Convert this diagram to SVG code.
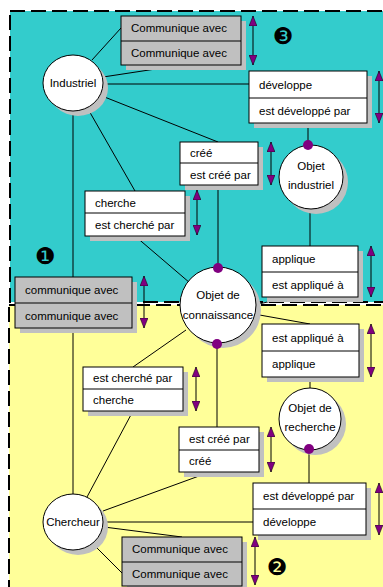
<svg xmlns="http://www.w3.org/2000/svg" width="383" height="587" viewBox="0 0 383 587">
<defs>
<style>
text{font-family:"Liberation Sans",Arial,sans-serif;font-size:11.5px;fill:#000}
.c{text-anchor:middle}
.num{font-family:"DejaVu Sans",sans-serif;font-size:23px;text-anchor:middle}
.box{fill:#fff;stroke:#000;stroke-width:1}
.gbox{fill:#c0c0c0;stroke:#000;stroke-width:1}
.sh{fill:#c0c0c0}
.ln{stroke:#000;stroke-width:1;fill:none}
.arr{stroke:#000;stroke-width:1;fill:none;marker-start:url(#ah);marker-end:url(#ah)}
.dot{fill:#800080}
</style>
<marker id="ah" viewBox="0 0 10 8" refX="10" refY="4" markerWidth="10" markerHeight="8" markerUnits="userSpaceOnUse" orient="auto-start-reverse">
<path d="M0,0 L10,4 L0,8 Z" fill="#800080" stroke="#000" stroke-width="0.5"/>
</marker>
</defs>
<rect x="0" y="0" width="383" height="587" fill="#fff"/>
<rect x="10" y="11" width="380" height="291" fill="#33cccc" stroke="#000" stroke-width="2" stroke-dasharray="15 6"/>
<rect x="9" y="305" width="380" height="290" fill="#ffff99" stroke="#000" stroke-width="2" stroke-dasharray="15 6"/>

<g id="connectors">
<line class="ln" x1="92" y1="60" x2="121" y2="28"/>
<line class="ln" x1="103" y1="77" x2="182" y2="65"/>
<line class="ln" x1="103" y1="84" x2="249" y2="84"/>
<line class="ln" x1="102" y1="96" x2="218" y2="142"/>
<line class="ln" x1="88" y1="109" x2="135" y2="191"/>
<line class="ln" x1="73" y1="111" x2="73" y2="494"/>
<line class="ln" x1="308" y1="123" x2="308" y2="145"/>
<line class="ln" x1="310" y1="209" x2="310" y2="246"/>
<line class="ln" x1="218" y1="185" x2="218" y2="268"/>
<line class="ln" x1="135" y1="236" x2="190" y2="283"/>
<line class="ln" x1="250" y1="306" x2="285" y2="298"/>
<line class="ln" x1="254" y1="314" x2="310" y2="324"/>
<line class="ln" x1="310" y1="377" x2="310" y2="388"/>
<line class="ln" x1="309" y1="449" x2="309" y2="483"/>
<line class="ln" x1="217" y1="343" x2="217" y2="427"/>
<line class="ln" x1="186" y1="330" x2="133" y2="367"/>
<line class="ln" x1="133" y1="411" x2="87" y2="497"/>
<line class="ln" x1="103" y1="511" x2="210" y2="472"/>
<line class="ln" x1="103" y1="522" x2="253" y2="522"/>
<line class="ln" x1="104" y1="527" x2="182" y2="537"/>
<line class="ln" x1="93" y1="544" x2="122" y2="573"/>
</g>

<g id="arrows">
<line class="arr" x1="253" y1="16" x2="253" y2="65"/>
<line class="arr" x1="379" y1="71" x2="379" y2="123"/>
<line class="arr" x1="271" y1="142" x2="271" y2="185"/>
<line class="arr" x1="197" y1="190" x2="197" y2="235"/>
<line class="arr" x1="371" y1="246" x2="371" y2="297"/>
<line class="arr" x1="144" y1="276" x2="144" y2="328"/>
<line class="arr" x1="371" y1="324" x2="371" y2="377"/>
<line class="arr" x1="196" y1="367" x2="196" y2="411"/>
<line class="arr" x1="271" y1="427" x2="271" y2="472"/>
<line class="arr" x1="379" y1="483" x2="379" y2="535"/>
<line class="arr" x1="255" y1="537" x2="255" y2="585"/>
</g>

<g id="industriel">
<ellipse class="sh" cx="78" cy="88" rx="30" ry="28"/>
<ellipse class="box" cx="73" cy="83" rx="30" ry="28"/>
<text class="c" x="73" y="87">Industriel</text>
</g>
<g id="commTop">
<rect class="sh" x="126" y="21" width="120" height="49"/>
<rect class="gbox" x="121" y="16" width="120" height="49"/>
<line class="ln" x1="121" y1="41" x2="241" y2="41"/>
<text x="131" y="32">Communique avec</text>
<text x="131" y="57">Communique avec</text>
</g>
<g id="developpe">
<rect class="sh" x="254" y="76" width="118" height="52"/>
<rect class="box" x="249" y="71" width="118" height="52"/>
<line class="ln" x1="249" y1="98" x2="367" y2="98"/>
<text x="259" y="89">développe</text>
<text x="259" y="115">est développé par</text>
</g>
<g id="cree">
<rect class="sh" x="185" y="147" width="78" height="43"/>
<rect class="box" x="180" y="142" width="78" height="43"/>
<line class="ln" x1="180" y1="163" x2="258" y2="163"/>
<text x="190" y="157">créé</text>
<text x="190" y="179">est créé par</text>
</g>
<g id="cherche">
<rect class="sh" x="90" y="196" width="100" height="45"/>
<rect class="box" x="85" y="191" width="100" height="45"/>
<line class="ln" x1="85" y1="213" x2="185" y2="213"/>
<text x="95" y="207">cherche</text>
<text x="95" y="229">est cherché par</text>
</g>
<g id="objetIndustriel">
<circle class="sh" cx="316" cy="182" r="32"/>
<circle class="box" cx="311" cy="177" r="32"/>
<text class="c" x="311" y="170">Objet</text>
<text class="c" x="311" y="189">industriel</text>
<circle class="dot" cx="308" cy="145" r="5"/>
</g>
<g id="applique">
<rect class="sh" x="267" y="251" width="96" height="51"/>
<rect class="box" x="262" y="246" width="96" height="51"/>
<line class="ln" x1="262" y1="272" x2="358" y2="272"/>
<text x="272" y="263">applique</text>
<text x="272" y="289">est appliqué à</text>
</g>
<g id="commMid">
<rect class="sh" x="20" y="282" width="117" height="51"/>
<rect class="gbox" x="15" y="277" width="117" height="51"/>
<line class="ln" x1="15" y1="303" x2="132" y2="303"/>
<text x="25" y="294">communique avec</text>
<text x="25" y="320">communique avec</text>
</g>
<g id="num1"><text class="num" x="45" y="264">❶</text></g>
<g id="objetConnaissance">
<circle class="sh" cx="223" cy="310" r="38"/>
<circle class="box" cx="218" cy="305" r="38"/>
<text class="c" x="218" y="299">Objet de</text>
<text class="c" x="218" y="319">connaissance</text>
<circle class="dot" cx="218" cy="268" r="5"/>
<circle class="dot" cx="217" cy="344" r="5"/>
</g>
<g id="estApplique">
<rect class="sh" x="267" y="329" width="97" height="53"/>
<rect class="box" x="262" y="324" width="97" height="53"/>
<line class="ln" x1="262" y1="351" x2="359" y2="351"/>
<text x="272" y="342">est appliqué à</text>
<text x="272" y="368">applique</text>
</g>
<g id="estCherche">
<rect class="sh" x="88" y="372" width="100" height="44"/>
<rect class="box" x="83" y="367" width="100" height="44"/>
<line class="ln" x1="83" y1="389" x2="183" y2="389"/>
<text x="93" y="382">est cherché par</text>
<text x="93" y="404">cherche</text>
</g>
<g id="objetRecherche">
<circle class="sh" cx="315" cy="424" r="31"/>
<circle class="box" cx="310" cy="419" r="31"/>
<text class="c" x="310" y="412">Objet de</text>
<text class="c" x="310" y="431">recherche</text>
<circle class="dot" cx="309" cy="449" r="5"/>
</g>
<g id="estCree">
<rect class="sh" x="184" y="432" width="80" height="45"/>
<rect class="box" x="179" y="427" width="80" height="45"/>
<line class="ln" x1="179" y1="450" x2="259" y2="450"/>
<text x="189" y="443">est créé par</text>
<text x="189" y="465">créé</text>
</g>
<g id="estDeveloppe">
<rect class="sh" x="258" y="488" width="113" height="52"/>
<rect class="box" x="253" y="483" width="113" height="52"/>
<line class="ln" x1="253" y1="509" x2="366" y2="509"/>
<text x="263" y="500">est développé par</text>
<text x="263" y="526">développe</text>
</g>
<g id="chercheur">
<ellipse class="sh" cx="78" cy="527" rx="30" ry="28"/>
<ellipse class="box" cx="73" cy="522" rx="30" ry="28"/>
<text class="c" x="73" y="526">Chercheur</text>
</g>
<g id="commBot">
<rect class="sh" x="127" y="542" width="120" height="49"/>
<rect class="gbox" x="122" y="537" width="120" height="49"/>
<line class="ln" x1="122" y1="562" x2="242" y2="562"/>
<text x="132" y="553">Communique avec</text>
<text x="132" y="578">Communique avec</text>
</g>
<g id="num2"><text class="num" x="277" y="575">❷</text></g>
<g id="num3"><text class="num" x="283" y="44">❸</text></g>
</svg>
